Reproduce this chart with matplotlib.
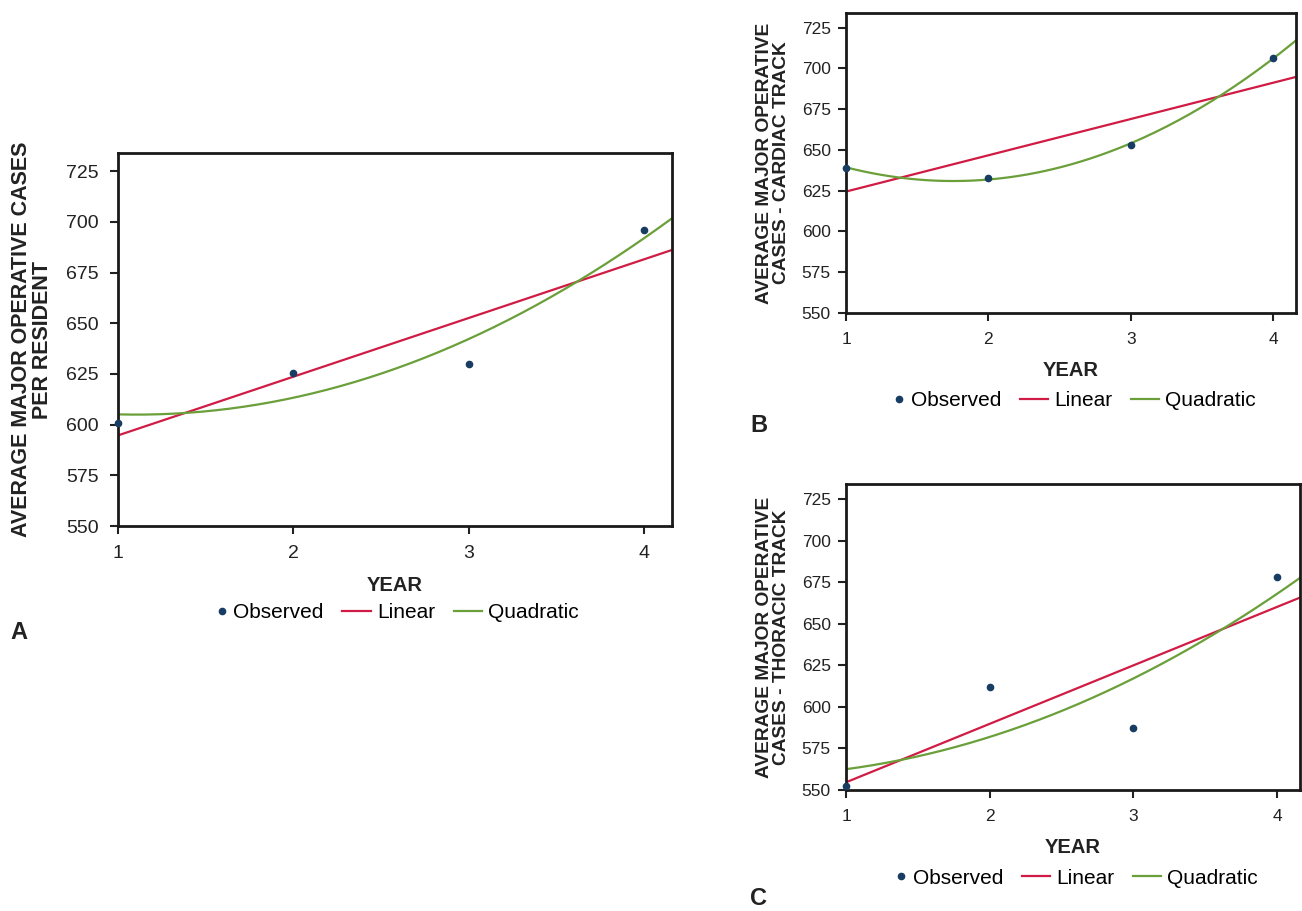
import numpy as np
import matplotlib
matplotlib.use("Agg")
import matplotlib.pyplot as plt
from matplotlib.legend_handler import HandlerLine2D

plt.rcParams['font.family'] = ['Liberation Sans', 'DejaVu Sans']

# observed average major operative cases per resident, years 1-4
years = [1, 2, 3, 4]
all_cases = [601, 625.5, 630, 696]
cardiac_cases = [639, 633, 653, 706.5]
thoracic_cases = [552.5, 612, 587, 678]

y_ticks = [550, 575, 600, 625, 650, 675, 700, 725]
x_ticks = [1, 2, 3, 4]

RED = "#d01c44"
GREEN = "#6a9f3a"
DOT = "#173d63"
INK = "#222222"


class DotRight(HandlerLine2D):
    # put the observed dot next to its text like in the original legend
    def create_artists(self, legend, orig_handle, xdescent, ydescent,
                       width, height, fontsize, trans):
        arts = super().create_artists(legend, orig_handle, xdescent, ydescent,
                                      width, height, fontsize, trans)
        for a in arts:
            if a.get_marker() not in (None, "None", ""):
                a.set_xdata([width - 0.25 * fontsize])
        return arts


def panel(ax, yvals, ylabel, fs_tick, ypad, fs_ylab, ylab_x, leg_y):
    x = np.array(years, dtype=float)
    y = np.array(yvals, dtype=float)
    xs = np.linspace(1, 4.16, 200)
    lin = np.polyfit(x, y, 1)
    quad = np.polyfit(x, y, 2)
    dots, = ax.plot(x, y, "o", color=DOT, markersize=4.5, label="Observed",
                    zorder=5, clip_on=False)
    ax.plot(xs, np.polyval(lin, xs), color=RED, lw=1.6, label="Linear")
    ax.plot(xs, np.polyval(quad, xs), color=GREEN, lw=1.6, label="Quadratic")

    ax.set_xlim(1, 4.16)
    ax.set_ylim(550, 734)
    ax.set_xticks(x_ticks)
    ax.set_yticks(y_ticks)
    ax.tick_params(axis="both", direction="out", length=6, width=1.5,
                   labelsize=fs_tick, color=INK, labelcolor=INK)
    ax.tick_params(axis="x", pad=8)
    ax.tick_params(axis="y", pad=ypad)
    for s in ax.spines.values():
        s.set_linewidth(2)
        s.set_color("#1a1a1a")

    ax.set_xlabel("YEAR", fontsize=14.5, fontweight="bold", labelpad=10, color=INK)
    ax.set_ylabel(ylabel, fontsize=fs_ylab, fontweight="bold", color=INK,
                  linespacing=1.0)
    ax.yaxis.set_label_coords(ylab_x, 0.5)
    ax.legend(loc="center", bbox_to_anchor=(0.489, leg_y), ncol=3, frameon=False,
              fontsize=15, handlelength=1.35, handletextpad=0.3,
              columnspacing=0.9, handler_map={dots: DotRight()})


fig = plt.figure(figsize=(13.02, 9.11), dpi=100)

axA = fig.add_axes([0.0906, 0.4226, 0.4255, 0.4094])
panel(axA, all_cases, "AVERAGE MAJOR OPERATIVE CASES\nPER RESIDENT",
      14, 8, 15.5, -0.118, -0.233)

axB = fig.add_axes([0.6498, 0.6564, 0.3456, 0.3293])
panel(axB, cardiac_cases, "AVERAGE MAJOR OPERATIVE\nCASES - CARDIAC TRACK",
      12.5, 5, 13.8, -0.124, -0.293)

axC = fig.add_axes([0.6498, 0.1328, 0.3487, 0.3359])
panel(axC, thoracic_cases, "AVERAGE MAJOR OPERATIVE\nCASES - THORACIC TRACK",
      12.5, 5, 13.8, -0.123, -0.288)

fig.text(0.008, 0.306, "A", fontsize=17, fontweight="bold", va="center", color=INK)
fig.text(0.576, 0.533, "B", fontsize=17, fontweight="bold", va="center", color=INK)
fig.text(0.576, 0.014, "C", fontsize=17, fontweight="bold", va="center", color=INK)

fig.savefig("out.png", dpi=100)
